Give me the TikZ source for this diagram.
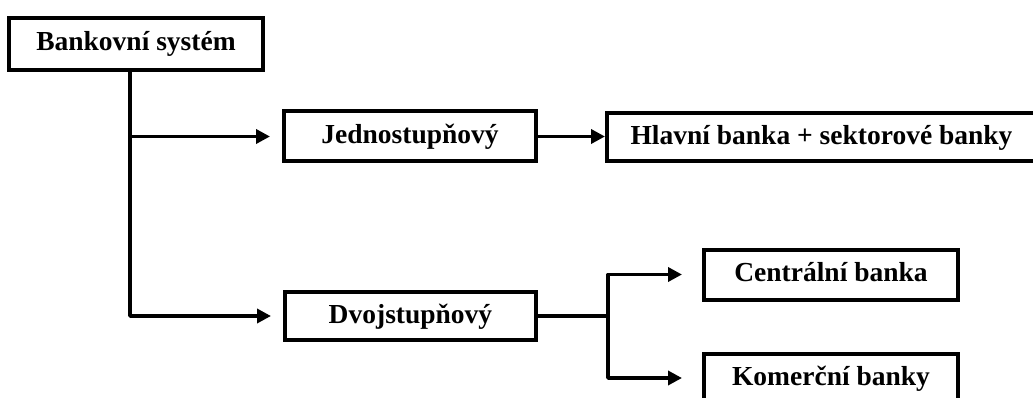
\documentclass[tikz,border=0pt]{standalone}
\usepackage{fontspec}
\setmainfont{Liberation Serif}
\usetikzlibrary{arrows.meta,calc}

\begin{document}
\begin{tikzpicture}[x=1pt, y=-1pt,
    box/.style={draw, line width=4pt, inner sep=0pt, text height=21pt, text depth=7pt,
      font=\fontsize{27.5}{32}\selectfont\bfseries},
    link/.style={line width=3.5pt, line join=round, -{Triangle[length=14pt,width=14pt]}},
    biglink/.style={link, {Triangle[length=14pt,width=14pt]}-{Triangle[length=14pt,width=14pt]}}]
    \useasboundingbox (0,0) rectangle (1033,398);
    \clip (0,0) rectangle (1033,398);

    \node[box, minimum width=254pt, minimum height=52pt] (bank) at (136, 44) {Bankovní systém};
    \node[box, minimum width=252pt, minimum height=50pt] (jedno) at (410, 136.5) {Jednostupňový};
    \node[box, minimum width=429pt, minimum height=48pt] (hlavni) at (821.5, 137.5) {Hlavní banka + sektorové banky};
    \node[box, minimum width=251pt, minimum height=48pt] (dvoj) at (410.5, 316) {Dvojstupňový};
    \node[box, minimum width=254pt, minimum height=50pt] (centr) at (831, 274.5) {Centrální banka};
    \node[box, minimum width=254pt, minimum height=48pt] (komer) at (831, 378) {Komerční banky};

    \coordinate (trunk) at (130, 0);
    \coordinate (fork) at (608, 0);

    \draw[link] ([xshift=-6pt]bank.south) |- ([xshift=-12pt]dvoj.west);
    \draw[link] (trunk |- jedno.west) -- ([xshift=-12pt]jedno.west);
    \draw[link] (jedno.east) -- (jedno.east -| hlavni.west);
    \draw[line width=3.5pt] (dvoj.east) -- (fork |- dvoj.east);
    \draw[biglink] ([xshift=-20pt]centr.west) -| (fork |- komer.west) -- ([xshift=-20pt]komer.west);
\end{tikzpicture}
\end{document}
